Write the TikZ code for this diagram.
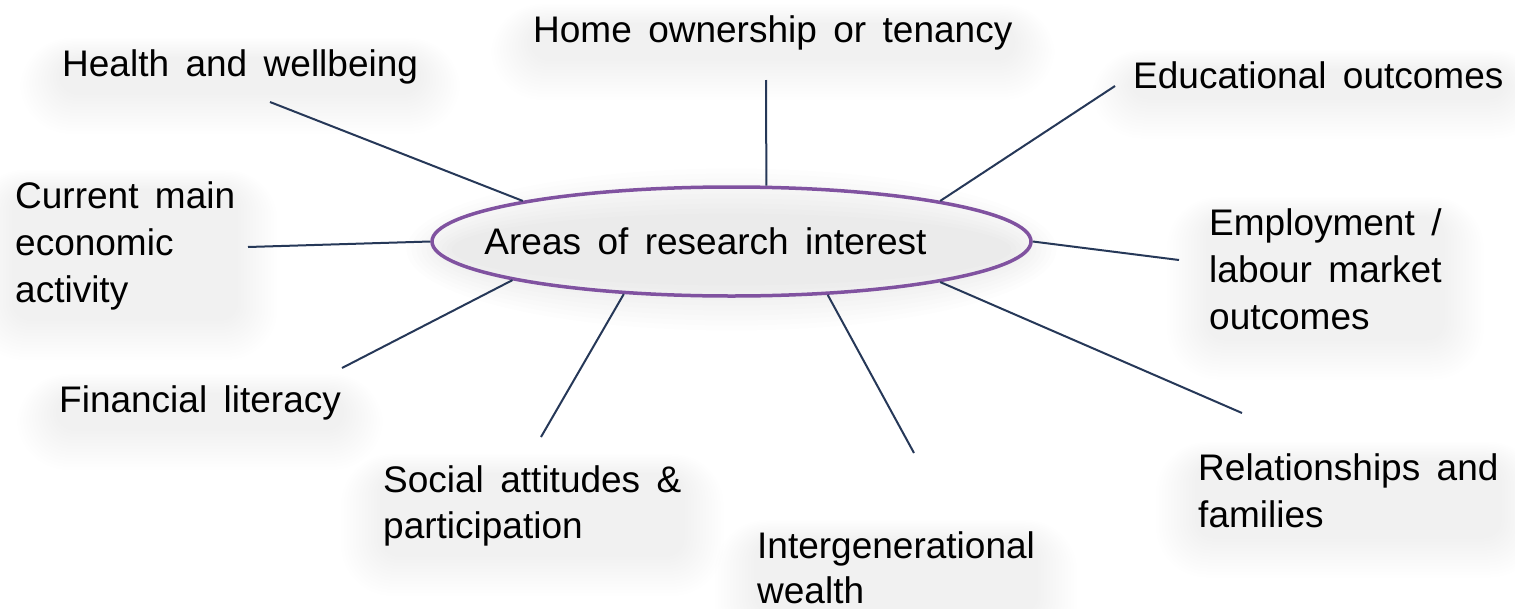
\documentclass[tikz,border=0pt]{standalone}
\usepackage{fontspec}
\setmainfont{Liberation Sans}[WordSpace=1.6]
\usetikzlibrary{shapes.geometric}
\definecolor{connc}{RGB}{38,56,88}
\definecolor{ringc}{RGB}{128,82,160}
\pgfdeclarelayer{bglayer}
\pgfdeclarelayer{hazelayer}
\pgfsetlayers{bglayer,hazelayer,main}
\newcommand\hazeof[1]{%
  \begin{pgfonlayer}{hazelayer}
  \foreach \k in {1,...,14}{
    \fill[black,opacity=0.0042,rounded corners={16pt+\k*2.5pt}]
      ([xshift=-\k*3pt,yshift={-10pt+\k*1.5pt}]#1.north west) rectangle
      ([xshift=\k*3pt,yshift={-8pt-\k*3pt}]#1.south east);
  }
  \end{pgfonlayer}}
\begin{document}
\begin{tikzpicture}[x=1pt,y=-1pt,
  lbl/.style={font=\fontsize{37}{47}\selectfont, inner sep=0pt, align=left, anchor=base west},
  link/.style={draw=connc, line width=2pt},
  hub/.style={ellipse, draw=ringc, line width=3.5pt, minimum width=599pt, minimum height=109pt,
    inner sep=0pt, font=\fontsize{37}{47}\selectfont}]
\begin{pgfonlayer}{bglayer}
\fill[white] (0,0) rectangle (1515,608);
\end{pgfonlayer}
\useasboundingbox (0,0) rectangle (1515,608);

\node[hub] (c) at (731.5,241.5) {\makebox[0pt]{Areas of research interest\hspace*{52pt}}};

% multi-line nodes: base anchor sits on the last line
\node[lbl] (home) at (533,42) {Home ownership or tenancy};
\node[lbl] (health) at (62,76) {Health and wellbeing};
\node[lbl] (edu) at (1133,88) {Educational outcomes};
\node[lbl] (cur) at (15,302) {Current main\\economic\\activity};
\node[lbl] (emp) at (1209,329) {Employment /\\labour market\\outcomes};
\node[lbl] (fin) at (59,412) {Financial literacy};
\node[lbl, font=\fontsize{37}{46}\selectfont] (soc) at (383,538) {Social attitudes \&\\participation};
\node[lbl, font=\fontsize{37}{45}\selectfont] (inter) at (757,603) {Intergenerational\\wealth};
\node[lbl] (rel) at (1198,527) {Relationships and\\families};

\foreach \n in {home,health,edu,cur,emp,fin,soc,inter,rel} {\hazeof{\n}}
\begin{pgfonlayer}{hazelayer}
\foreach \k in {0,...,9}
  \fill[black,opacity=0.006] ([yshift=-8pt]c.center) ellipse [x radius={280pt+\k*5pt}, y radius={36pt+\k*5pt}];
\end{pgfonlayer}

\coordinate (ehome) at (766,80);
\coordinate (ehealth) at (270,102);
\coordinate (eedu) at (1115,86);
\coordinate (ecur) at (248,247);
\coordinate (eemp) at (1179,260);
\coordinate (efin) at (342,368);
\coordinate (esoc) at (541,437);
\coordinate (einter) at (914,453);
\coordinate (erel) at (1242,413);

\draw[link] (ehealth) -- (c.169);
\draw[link] (ehome) -- (c.58);
\draw[link] (eedu) -- (c.11);
\draw[link] (ecur) -- (c.180);
\draw[link] (eemp) -- (c.0);
\draw[link] (efin) -- (c.190.3);
\draw[link] (esoc) -- (c.206.5);
\draw[link] (einter) -- (c.331.5);
\draw[link] (erel) -- (c.349.3);
\end{tikzpicture}
\end{document}
